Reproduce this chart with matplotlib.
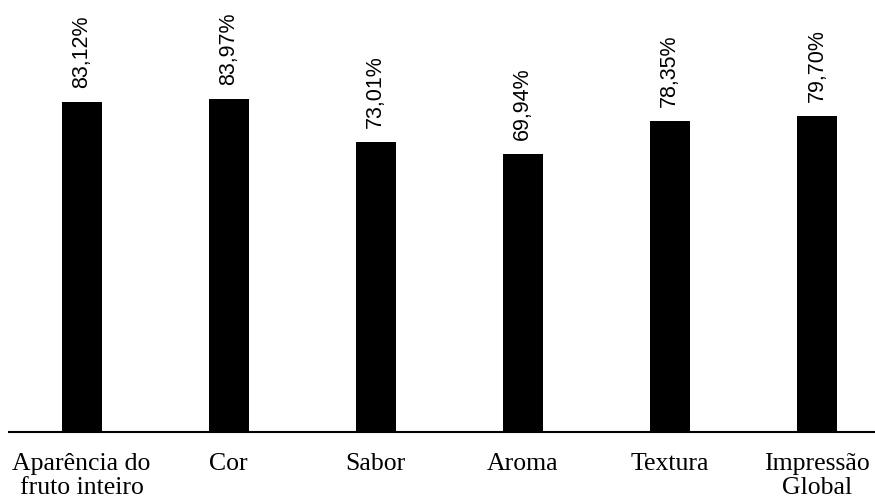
import matplotlib.pyplot as plt
import numpy as np

# Atributos avaliados e índice de aceitação (%)
categorias = ["Aparência do\nfruto inteiro", "Cor", "Sabor", "Aroma", "Textura", "Impressão\nGlobal"]
aceitacao = [83.12, 83.97, 73.01, 69.94, 78.35, 79.70]

fig = plt.figure(figsize=(8.75, 4.98), dpi=100)
ax = fig.add_axes([9 / 875, 66 / 498, 866 / 875, 397 / 498])

x = np.arange(len(categorias))
ax.bar(x, aceitacao, width=0.272, color="black")

# Rótulos com o valor de cada barra
for xi, v in zip(x, aceitacao):
    texto = f"{v:.2f}".replace(".", ",") + "%"
    ax.annotate(texto, xy=(xi, v), xytext=(0, 10), textcoords="offset points",
                rotation=90, ha="center", va="bottom",
                fontsize=15.5, family="Liberation Sans")

ax.set_xlim(-0.494, 5.395)
ax.set_ylim(0, 100)
ax.set_xticks(x)
ax.set_xticklabels(categorias, family="Liberation Serif", fontsize=18.5, linespacing=1.15)
ax.tick_params(axis="x", length=0, pad=15)
ax.set_yticks([])
for lado in ["top", "right", "left"]:
    ax.spines[lado].set_visible(False)
ax.spines["bottom"].set_linewidth(1.5)

fig.savefig("out.png", dpi=100)
